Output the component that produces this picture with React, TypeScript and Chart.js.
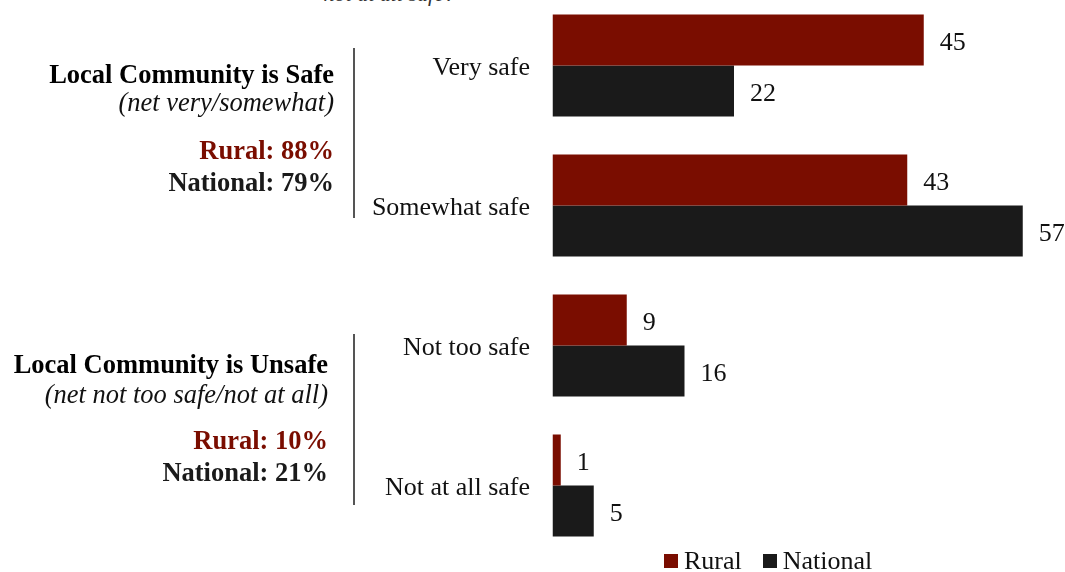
import React, { useEffect, useRef } from "react";
import { Chart, registerables } from "chart.js";

Chart.register(...registerables);

const categories = ["Very safe", "Somewhat safe", "Not too safe", "Not at all safe"];
const ruralValues = [45, 43, 9, 1];
const nationalValues = [22, 57, 16, 5];
const seriesNames = ["Rural", "National"];

const RURAL = "#7a0d00";
const NATIONAL = "#1a1a1a";
const FONT = '"Liberation Serif", "Times New Roman", serif';

const valueLabels = {
  id: "valueLabels",
  afterDatasetsDraw(chart: any) {
    const ctx = chart.ctx;
    ctx.save();
    ctx.font = `26px ${FONT}`;
    ctx.fillStyle = "#111";
    ctx.textAlign = "left";
    ctx.textBaseline = "middle";
    chart.data.datasets.forEach((ds: any, i: number) => {
      const meta = chart.getDatasetMeta(i);
      meta.data.forEach((el: any, j: number) => {
        ctx.fillText(String(ds.data[j]), el.x + 16, el.y + 3.5);
      });
    });
    ctx.restore();
  },
};

export default function App() {
  const ref = useRef<HTMLCanvasElement | null>(null);

  useEffect(() => {
    if (!ref.current) return;
    const chart = new Chart(ref.current, {
      type: "bar",
      data: {
        labels: categories,
        datasets: [
          {
            label: seriesNames[0],
            data: ruralValues,
            backgroundColor: RURAL,
            categoryPercentage: 0.73,
            barPercentage: 1,
          },
          {
            label: seriesNames[1],
            data: nationalValues,
            backgroundColor: NATIONAL,
            categoryPercentage: 0.73,
            barPercentage: 1,
          },
        ],
      },
      options: {
        indexAxis: "y",
        animation: false,
        responsive: false,
        maintainAspectRatio: false,
        layout: { padding: { left: 0, right: 17.5, top: 15.5, bottom: 24.5 } },
        plugins: {
          legend: { display: false },
          tooltip: { enabled: false },
        },
        scales: {
          x: { display: false, min: 0, max: 60 },
          y: {
            grid: { display: false, drawTicks: false },
            border: { display: false },
            ticks: {
              padding: 22.5,
              labelOffset: 2.5,
              color: "#111",
              font: { family: FONT, size: 26 },
            },
            afterFit(scale: any) {
              scale.width = 552.5;
              scale.paddingTop = 0;
              scale.paddingBottom = 0;
            },
          },
        },
      },
      plugins: [valueLabels],
    });
    return () => chart.destroy();
  }, []);

  const line = (top: number, right: number, text: string, style: React.CSSProperties) => (
    <div
      style={{
        position: "absolute",
        top,
        right: 1065 - right,
        whiteSpace: "nowrap",
        fontFamily: FONT,
        fontSize: 26.5,
        lineHeight: "30px",
        textAlign: "right",
        ...style,
      }}
    >
      {text}
    </div>
  );

  return (
    <div
      style={{
        position: "fixed",
        left: 0,
        top: 0,
        width: 1065,
        height: 572,
        overflow: "hidden",
        background: "#fff",
      }}
    >
      {line(-21, 455, "not at all safe?", { fontStyle: "italic", fontSize: 22, color: "#333" })}
      <div style={{ position: "absolute", left: 0, top: -20, width: 1065, height: 600 }}>
        <canvas ref={ref} width={1065} height={600} style={{ width: 1065, height: 600, display: "block" }} />
      </div>

      {line(59, 334, "Local Community is Safe", { fontWeight: "bold", color: "#000" })}
      {line(87, 334, "(net very/somewhat)", { fontStyle: "italic", color: "#111" })}
      {line(135, 334, "Rural: 88%", { fontWeight: "bold", color: RURAL })}
      {line(167, 334, "National: 79%", { fontWeight: "bold", color: "#1a1a1a" })}
      <div style={{ position: "absolute", left: 353, top: 48, width: 1.5, height: 170, background: "#555" }} />

      {line(349, 328, "Local Community is Unsafe", { fontWeight: "bold", color: "#000" })}
      {line(379, 328, "(net not too safe/not at all)", { fontStyle: "italic", color: "#111" })}
      {line(425, 328, "Rural: 10%", { fontWeight: "bold", color: RURAL })}
      {line(457, 328, "National: 21%", { fontWeight: "bold", color: "#1a1a1a" })}
      <div style={{ position: "absolute", left: 353, top: 334, width: 1.5, height: 171, background: "#555" }} />

      <div
        style={{
          position: "absolute",
          left: 664,
          top: 546,
          display: "flex",
          alignItems: "center",
          fontFamily: FONT,
          fontSize: 26,
          lineHeight: "30px",
          color: "#111",
          whiteSpace: "nowrap",
        }}
      >
        <span style={{ display: "inline-block", width: 14, height: 14, background: RURAL, marginRight: 6 }} />
        <span style={{ marginRight: 21 }}>{seriesNames[0]}</span>
        <span style={{ display: "inline-block", width: 14, height: 14, background: NATIONAL, marginRight: 6 }} />
        <span>{seriesNames[1]}</span>
      </div>
    </div>
  );
}
